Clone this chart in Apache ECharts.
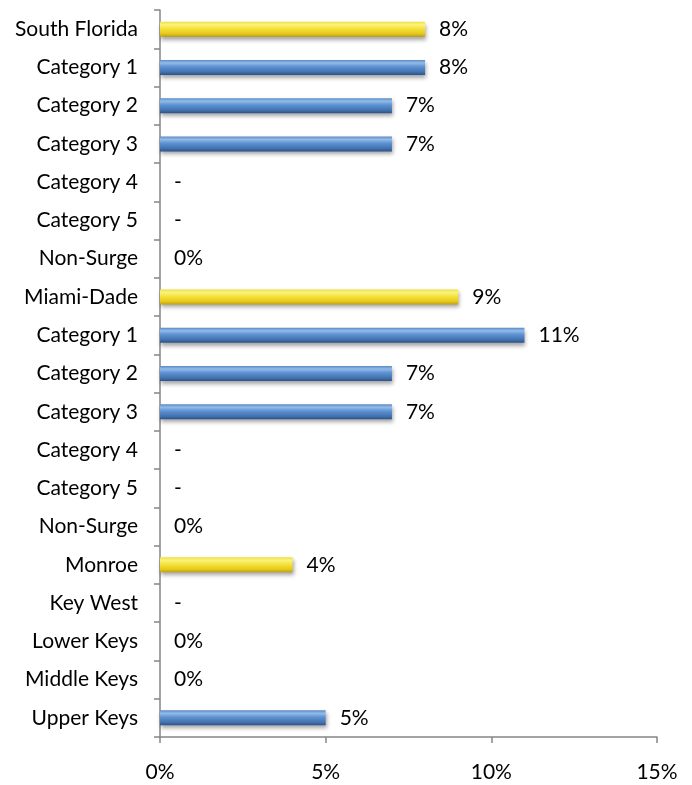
<!DOCTYPE html>
<html>
<head>
<meta charset="utf-8">
<script src="https://cdn.jsdelivr.net/npm/echarts@6/dist/echarts.min.js"></script>
<style>html,body{margin:0;padding:0;background:#fff}#c{width:692px;height:785px}</style>
</head>
<body>
<div id="c"></div>
<script>
const categories = ["South Florida","Category 1","Category 2","Category 3","Category 4","Category 5","Non-Surge",
  "Miami-Dade","Category 1","Category 2","Category 3","Category 4","Category 5","Non-Surge",
  "Monroe","Key West","Lower Keys","Middle Keys","Upper Keys"];
// percent values; null = no data ("-")
const values = [8,8,7,7,null,null,0, 9,11,7,7,null,null,0, 4,null,0,0,5];
// which rows are region totals (yellow)
const isTotal = [1,0,0,0,0,0,0, 1,0,0,0,0,0,0, 1,0,0,0,0];
const xTicks = [0,5,10,15];

const blue = new echarts.graphic.LinearGradient(0,0,0,1,[
  {offset:0,color:'#5a8ac6'},{offset:0.2,color:'#93bbe8'},{offset:0.45,color:'#5e92d2'},
  {offset:0.8,color:'#4272b0'},{offset:1,color:'#2c5286'}]);
const yellow = new echarts.graphic.LinearGradient(0,0,0,1,[
  {offset:0,color:'#f2de44'},{offset:0.2,color:'#fbf27e'},{offset:0.45,color:'#f5e43c'},
  {offset:0.8,color:'#e6c81c'},{offset:1,color:'#bf9f10'}]);

const data = values.map((v,i)=>({
  value: v===null?0:v,
  itemStyle:{color: isTotal[i]?yellow:blue},
  label:{formatter: v===null?'-':(v+'%')}
}));

const FS = 21;
const chart = echarts.init(document.getElementById('c'));
chart.setOption({
  animation:false,
  grid:{left:160,right:35,top:10,bottom:48},
  xAxis:{type:'value',min:0,max:15,interval:5,
    axisLine:{show:true,lineStyle:{color:'#868686',width:1.5}},
    axisTick:{show:true,length:6,lineStyle:{color:'#868686',width:1.5}},
    splitLine:{show:false},
    axisLabel:{formatter:'{value}%',margin:25,fontSize:FS,fontFamily:'Lato',color:'#000'}},
  yAxis:{type:'category',data:categories,inverse:true,
    axisLine:{show:true,lineStyle:{color:'#868686',width:1.5}},
    axisTick:{show:true,length:6,lineStyle:{color:'#868686',width:1.5}},
    axisLabel:{margin:22,fontSize:FS,fontFamily:'Lato',color:'#000'}},
  series:[{type:'bar',data:data,barWidth:15,
    itemStyle:{shadowBlur:4,shadowOffsetY:3,shadowOffsetX:1,shadowColor:'rgba(0,0,0,0.35)'},
    label:{show:true,position:'right',distance:14,fontSize:FS,fontFamily:'Lato',color:'#000'}}]
});
</script>
</body>
</html>
